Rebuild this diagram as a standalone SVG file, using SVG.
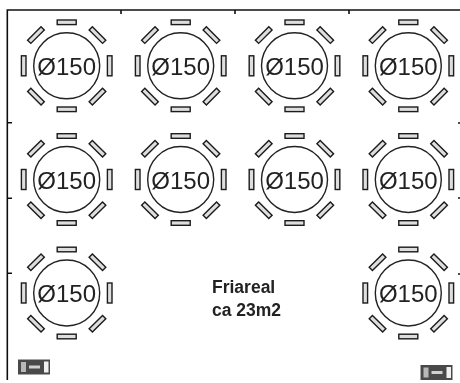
<svg xmlns="http://www.w3.org/2000/svg" xmlns:xlink="http://www.w3.org/1999/xlink" width="460" height="383" viewBox="0 0 460 383">
<style>
.f{fill:none;stroke:#111;stroke-width:1.6}
.c{fill:none;stroke:#222;stroke-width:1.4}
.s{fill:#dedede;stroke:#1a1a1a;stroke-width:1.4}
.t{font-family:"Liberation Sans",Arial,sans-serif;font-size:24px;fill:#222;text-anchor:middle}
.l{font-family:"Liberation Sans",Arial,sans-serif;font-size:17.5px;font-weight:bold;fill:#222}
</style>
<defs>
<filter id="soft" x="-5%" y="-5%" width="110%" height="110%"><feGaussianBlur stdDeviation="0.4"/></filter>
<filter id="softer" x="-20%" y="-20%" width="140%" height="140%"><feGaussianBlur stdDeviation="0.7"/></filter>
<g id="seats">
<circle class="c" r="33"/>
<rect class="s" x="-9.500" y="-45.800" width="19" height="4.600"/>
<rect class="s" x="-9.500" y="41.200" width="19" height="4.600"/>
<rect class="s" x="-45.300" y="-10" width="4.600" height="20"/>
<rect class="s" x="40.700" y="-10" width="4.600" height="20"/>
<rect class="s" x="-9.500" y="-45.800" width="19" height="4.600" transform="rotate(45)"/>
<rect class="s" x="-9.500" y="-45.800" width="19" height="4.600" transform="rotate(135)"/>
<rect class="s" x="-9.500" y="-45.800" width="19" height="4.600" transform="rotate(225)"/>
<rect class="s" x="-9.500" y="-45.800" width="19" height="4.600" transform="rotate(315)"/>
</g>
<g id="icon">
<rect x="0" y="0" width="32" height="15" fill="#4a4a4a"/>
<rect x="3" y="2.500" width="5" height="10" fill="#b8b8b8"/>
<rect x="26" y="2" width="4.500" height="11" fill="#f0f0f0"/>
<rect x="11" y="6" width="11" height="3" fill="#d0d0d0"/>
</g>
</defs>
<g filter="url(#soft)">
<g id="frame">
<path class="f" d="M7.300 380V10H460"/>
<path class="f" d="M121 10V14M235 10V14M349 10V14M7.300 122.700H12M7.300 198.300H12M7.300 273.300H12M458 123H460M458 198H460M458 274H460"/>
</g>
<g id="connectors"/>
<g id="t1"><use xlink:href="#seats" x="66.700" y="65.800"/><text class="t" x="66.700" y="75">Ø150</text></g>
<g id="t2"><use xlink:href="#seats" x="180.700" y="65.800"/><text class="t" x="180.700" y="75">Ø150</text></g>
<g id="t3"><use xlink:href="#seats" x="294.500" y="65.800"/><text class="t" x="294.500" y="75">Ø150</text></g>
<g id="t4"><use xlink:href="#seats" x="408.300" y="65.800"/><text class="t" x="408.300" y="75">Ø150</text></g>
<g id="t5"><use xlink:href="#seats" x="66.700" y="179.500"/><text class="t" x="66.700" y="188.700">Ø150</text></g>
<g id="t6"><use xlink:href="#seats" x="180.700" y="179.500"/><text class="t" x="180.700" y="188.700">Ø150</text></g>
<g id="t7"><use xlink:href="#seats" x="294.500" y="179.500"/><text class="t" x="294.500" y="188.700">Ø150</text></g>
<g id="t8"><use xlink:href="#seats" x="408.300" y="179.500"/><text class="t" x="408.300" y="188.700">Ø150</text></g>
<g id="t9"><use xlink:href="#seats" x="66.700" y="293"/><text class="t" x="66.700" y="302.200">Ø150</text></g>
<g id="t10"><use xlink:href="#seats" x="408.300" y="293"/><text class="t" x="408.300" y="302.200">Ø150</text></g>
<g id="label"><text class="l" x="212" y="292.500">Friareal</text><text class="l" x="212" y="315.500">ca 23m2</text></g>
</g>
<g filter="url(#softer)">
<g id="icon1"><use xlink:href="#icon" x="18" y="359.500"/></g>
<g id="icon2"><use xlink:href="#icon" x="420.500" y="365"/></g>
</g>
</svg>
